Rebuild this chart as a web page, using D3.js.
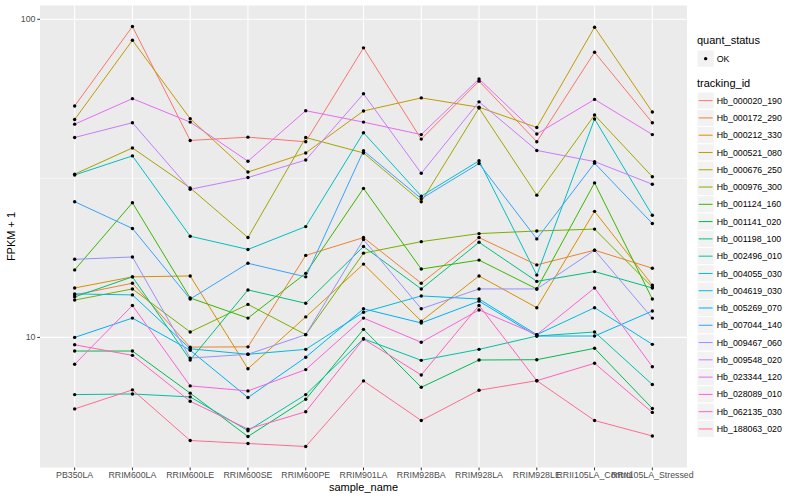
<!DOCTYPE html>
<html lang="en">
<head>
  <meta charset="UTF-8">
  <title>FPKM by sample</title>
  <script src="https://d3js.org/d3.v7.min.js"></script>
  <style>
    * { margin: 0; padding: 0; box-sizing: border-box; }
    body { background: #fff; width: 800px; height: 500px; overflow: hidden; }
    svg { display: block; font-family: 'Liberation Sans', Arial, sans-serif; }
    .tick-label { font-size: 8.8px; fill: #4d4d4d; }
    .axis-title { font-size: 11px; fill: #000; }
    .legend-title { font-size: 11px; fill: #000; }
    .legend-text { font-size: 8.8px; fill: #000; }
  </style>
</head>
<body>
  <svg id="chart" width="800" height="500"></svg>

  <script>
    const samples = ["PB350LA", "RRIM600LA", "RRIM600LE", "RRIM600SE", "RRIM600PE", "RRIM901LA",
      "RRIM928BA", "RRIM928LA", "RRIM928LE", "RRII105LA_Control", "RRII105LA_Stressed"];

    const trackingIds = ["Hb_000020_190", "Hb_000172_290", "Hb_000212_330", "Hb_000521_080",
      "Hb_000676_250", "Hb_000976_300", "Hb_001124_160", "Hb_001141_020", "Hb_001198_100",
      "Hb_002496_010", "Hb_004055_030", "Hb_004619_030", "Hb_005269_070", "Hb_007044_140",
      "Hb_009467_060", "Hb_009548_020", "Hb_023344_120", "Hb_028089_010", "Hb_062135_030",
      "Hb_188063_020"];

    // FPKM + 1, one value per sample
    const hb_000020_190 = [53.4, 94.9, 41.6, 42.6, 41.2, 81.3, 42.0, 63.9, 41.2, 78.8, 47.3];
    const hb_000172_290 = [13.6, 14.8, 9.32, 9.34, 18.1, 20.6, 14.8, 20.6, 16.9, 18.8, 16.5];
    const hb_000212_330 = [14.3, 15.5, 15.6, 7.97, 11.6, 17.0, 11.25, 15.6, 12.4, 24.9, 14.6];
    const hb_000521_080 = [48.4, 85.9, 48.7, 33.1, 38.0, 51.5, 56.6, 52.9, 45.7, 94.4, 51.1];
    const hb_000676_250 = [32.6, 39.4, 29.5, 20.6, 42.5, 38.0, 26.7, 52.6, 28.0, 50.0, 32.0];
    const hb_000976_300 = [13.1, 14.2, 10.4, 12.7, 10.2, 18.4, 20.0, 21.2, 21.6, 21.9, 14.4];
    const hb_001124_160 = [16.3, 26.5, 13.3, 11.5, 15.9, 29.4, 16.4, 17.5, 14.2, 30.6, 13.2];
    const hb_001141_020 = [9.06, 9.06, 6.68, 4.88, 6.39, 10.6, 6.97, 8.49, 8.51, 9.24, 5.98];
    const hb_001198_100 = [13.4, 15.5, 8.49, 14.1, 12.8, 19.3, 14.2, 19.9, 15.0, 16.1, 14.3];
    const hb_002496_010 = [6.61, 6.64, 6.50, 5.09, 6.61, 9.9, 8.47, 9.17, 10.1, 10.4, 7.11];
    const hb_004055_030 = [32.4, 37.2, 20.8, 18.9, 22.3, 44.0, 27.8, 35.9, 15.7, 48.6, 24.2];
    const hb_004619_030 = [13.7, 13.6, 9.21, 8.85, 9.17, 12.0, 13.5, 13.2, 10.2, 12.4, 9.51];
    const hb_005269_070 = [10.0, 11.5, 9.11, 6.47, 8.66, 12.3, 11.1, 13.0, 10.1, 10.1, 12.1];
    const hb_007044_140 = [26.7, 22.0, 13.2, 17.1, 15.5, 38.6, 27.3, 35.2, 20.4, 35.3, 22.8];
    const hb_009467_060 = [17.6, 17.9, 8.61, 8.85, 10.2, 20.3, 12.3, 14.2, 14.2, 18.8, 11.5];
    const hb_009548_020 = [42.5, 47.3, 29.2, 31.8, 36.1, 58.3, 32.8, 55.0, 38.7, 35.7, 30.3];
    const hb_023344_120 = [46.8, 56.3, 47.5, 35.8, 51.6, 47.5, 43.4, 64.9, 43.6, 56.0, 43.4];
    const hb_028089_010 = [8.23, 12.6, 7.04, 6.79, 7.92, 11.5, 9.65, 12.2, 10.2, 14.3, 8.09];
    const hb_062135_030 = [9.48, 8.78, 6.30, 5.15, 5.84, 9.88, 7.62, 12.6, 7.31, 8.29, 5.81];
    const hb_188063_020 = [5.96, 6.84, 4.74, 4.64, 4.54, 7.30, 5.48, 6.82, 7.31, 5.48, 4.90];

    const seriesValues = [hb_000020_190, hb_000172_290, hb_000212_330, hb_000521_080,
      hb_000676_250, hb_000976_300, hb_001124_160, hb_001141_020, hb_001198_100,
      hb_002496_010, hb_004055_030, hb_004619_030, hb_005269_070, hb_007044_140,
      hb_009467_060, hb_009548_020, hb_023344_120, hb_028089_010, hb_062135_030,
      hb_188063_020];

    const yTicks = [10, 100];
    const yMinor = [Math.pow(10, 1.5)];
    const quantStatus = ["OK"];

    // ggplot default hue palette for 20 levels
    const palette = ["#F8766D", "#EA8331", "#D89000", "#C09B00", "#A3A500", "#7CAE00", "#39B600",
      "#00BB4E", "#00BF7D", "#00C1A3", "#00BFC4", "#00BAE0", "#00B0F6", "#35A2FF", "#9590FF",
      "#C77CFF", "#E76BF3", "#FA62DB", "#FF62BC", "#FF6C91"];

    const panel = { left: 40, right: 687, top: 5.5, bottom: 467.5 };

    const svg = d3.select("#chart");

    const x = d3.scalePoint()
      .domain(samples)
      .range([panel.left, panel.right])
      .padding(0.6);

    // log scale with 5% expansion like ggplot
    const allVals = seriesValues.flat();
    const lo = Math.log10(d3.min(allVals));
    const hi = Math.log10(d3.max(allVals));
    const pad = (hi - lo) * 0.05;
    const y = d3.scaleLog()
      .domain([Math.pow(10, lo - pad), Math.pow(10, hi + pad)])
      .range([panel.bottom, panel.top]);

    const color = d3.scaleOrdinal().domain(trackingIds).range(palette);

    // panel background
    svg.append("rect")
      .attr("x", panel.left).attr("y", panel.top)
      .attr("width", panel.right - panel.left)
      .attr("height", panel.bottom - panel.top)
      .attr("fill", "#EBEBEB");

    const grid = svg.append("g");
    grid.selectAll(".minor").data(yMinor).enter().append("line")
      .attr("x1", panel.left).attr("x2", panel.right)
      .attr("y1", d => y(d)).attr("y2", d => y(d))
      .attr("stroke", "#fff").attr("stroke-width", 0.55);
    grid.selectAll(".major-y").data(yTicks).enter().append("line")
      .attr("x1", panel.left).attr("x2", panel.right)
      .attr("y1", d => y(d)).attr("y2", d => y(d))
      .attr("stroke", "#fff").attr("stroke-width", 1.1);
    grid.selectAll(".major-x").data(samples).enter().append("line")
      .attr("x1", d => x(d)).attr("x2", d => x(d))
      .attr("y1", panel.top).attr("y2", panel.bottom)
      .attr("stroke", "#fff").attr("stroke-width", 1.1);

    // lines
    const line = d3.line()
      .x((d, i) => x(samples[i]))
      .y(d => y(d));

    svg.append("g").selectAll("path")
      .data(seriesValues)
      .enter().append("path")
      .attr("d", line)
      .attr("fill", "none")
      .attr("stroke", (d, i) => color(trackingIds[i]))
      .attr("stroke-width", 1);

    // points
    const pts = [];
    seriesValues.forEach(vals => vals.forEach((v, i) => pts.push({ s: samples[i], v: v })));
    svg.append("g").selectAll("circle")
      .data(pts)
      .enter().append("circle")
      .attr("cx", d => x(d.s))
      .attr("cy", d => y(d.v))
      .attr("r", 1.7)
      .attr("fill", "#000");

    // axes
    const xAxis = svg.append("g");
    xAxis.selectAll("line").data(samples).enter().append("line")
      .attr("x1", d => x(d)).attr("x2", d => x(d))
      .attr("y1", panel.bottom).attr("y2", panel.bottom + 2.75)
      .attr("stroke", "#333").attr("stroke-width", 1);
    xAxis.selectAll("text").data(samples).enter().append("text")
      .attr("class", "tick-label")
      .attr("x", d => x(d))
      .attr("y", panel.bottom + 10.5)
      .attr("text-anchor", "middle")
      .text(d => d);

    const yAxis = svg.append("g");
    yAxis.selectAll("line").data(yTicks).enter().append("line")
      .attr("x1", panel.left - 2.75).attr("x2", panel.left)
      .attr("y1", d => y(d)).attr("y2", d => y(d))
      .attr("stroke", "#333").attr("stroke-width", 1);
    yAxis.selectAll("text").data(yTicks).enter().append("text")
      .attr("class", "tick-label")
      .attr("x", panel.left - 4.5)
      .attr("y", d => y(d))
      .attr("dy", "0.35em")
      .attr("text-anchor", "end")
      .text(d => d);

    svg.append("text")
      .attr("class", "axis-title")
      .attr("x", (panel.left + panel.right) / 2)
      .attr("y", 491)
      .attr("text-anchor", "middle")
      .text("sample_name");

    svg.append("text")
      .attr("class", "axis-title")
      .attr("transform", `translate(15, ${(panel.top + panel.bottom) / 2}) rotate(-90)`)
      .attr("text-anchor", "middle")
      .text("FPKM + 1");

    // legends
    const lg = svg.append("g").attr("transform", "translate(697, 0)");
    const keySize = 17.28;

    lg.append("text").attr("class", "legend-title")
      .attr("x", 0).attr("y", 44).text("quant_status");
    const qs = lg.selectAll(".qs").data(quantStatus).enter().append("g")
      .attr("transform", (d, i) => `translate(0, ${50 + i * keySize})`);
    qs.append("rect").attr("width", keySize).attr("height", keySize)
      .attr("fill", "#F2F2F2").attr("stroke", "#fff");
    qs.append("circle").attr("cx", keySize / 2).attr("cy", keySize / 2)
      .attr("r", 1.7).attr("fill", "#000");
    qs.append("text").attr("class", "legend-text")
      .attr("x", keySize + 2.5).attr("y", keySize / 2).attr("dy", "0.35em")
      .text(d => d);

    lg.append("text").attr("class", "legend-title")
      .attr("x", 0).attr("y", 87).text("tracking_id");
    const ti = lg.selectAll(".ti").data(trackingIds).enter().append("g")
      .attr("transform", (d, i) => `translate(0, ${92 + i * keySize})`);
    ti.append("rect").attr("width", keySize).attr("height", keySize)
      .attr("fill", "#F2F2F2").attr("stroke", "#fff");
    ti.append("line")
      .attr("x1", 1.7).attr("x2", keySize - 1.7)
      .attr("y1", keySize / 2).attr("y2", keySize / 2)
      .attr("stroke", d => color(d)).attr("stroke-width", 1);
    ti.append("text").attr("class", "legend-text")
      .attr("x", keySize + 2.5).attr("y", keySize / 2).attr("dy", "0.35em")
      .text(d => d);
  </script>
</body>
</html>
